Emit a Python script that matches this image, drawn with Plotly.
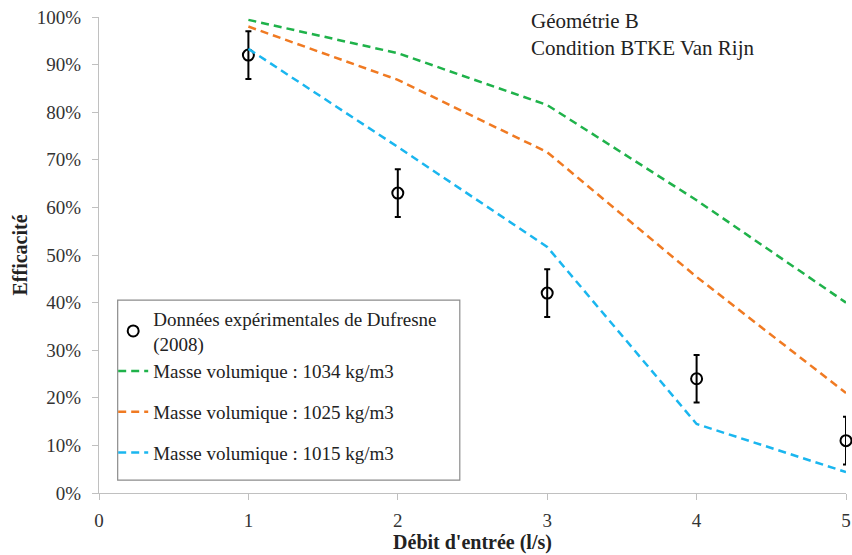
import plotly.graph_objects as go

debit = [1, 2, 3, 4, 5]
exp_values = [0.92, 0.63, 0.42, 0.24, 0.11]
exp_errors = [0.05, 0.05, 0.05, 0.05, 0.05]
rho_1034 = [0.994, 0.924, 0.815, 0.615, 0.40]
rho_1025 = [0.980, 0.868, 0.716, 0.454, 0.21]
rho_1015 = [0.933, 0.727, 0.517, 0.145, 0.044]

series_names = [
    "Données expérimentales de Dufresne<br>(2008)",
    "Masse volumique : 1034 kg/m3",
    "Masse volumique : 1025 kg/m3",
    "Masse volumique : 1015 kg/m3",
]
colors = ["#1fb24a", "#f07a22", "#1ab6ef"]

FONT = "Liberation Serif"

fig = go.Figure()
fig.add_trace(go.Scatter(
    x=debit, y=exp_values, mode="markers", name=series_names[0],
    marker=dict(symbol="circle-open", size=11, color="black", line=dict(width=2, color="black")),
    error_y=dict(type="data", array=exp_errors, color="black", thickness=2, width=3),
    cliponaxis=False, legendgroup="a",
))
for vals, name, col, grp in zip([rho_1034, rho_1025, rho_1015], series_names[1:], colors, ["a", "b", "c"]):
    fig.add_trace(go.Scatter(
        x=debit, y=vals, mode="lines", name=name,
        line=dict(color=col, width=2.5, dash="8px,5px"),
        cliponaxis=False, legendgroup=grp,
    ))

fig.add_shape(type="rect", xref="paper", yref="paper",
              x0=0.025, x1=0.483, y0=0.027, y1=0.405,
              line=dict(color="#8c8c8c", width=1.2), fillcolor="white", layer="above")

fig.add_annotation(
    text="Géométrie B<br>Condition BTKE Van Rijn", xref="paper", yref="paper",
    x=0.575, y=1.02, xanchor="left", yanchor="top", align="left", showarrow=False,
    font=dict(family=FONT, size=21, color="#222"),
)

axis_common = dict(
    showgrid=False, zeroline=False, showline=True, linecolor="#c0c0c0", linewidth=1.3,
    ticks="outside", tickcolor="#c0c0c0", ticklen=6, tickwidth=1.3,
    tickfont=dict(family=FONT, size=19, color="#333"), automargin=False,
)

fig.update_layout(
    width=852, height=555,
    margin=dict(l=99, r=6, t=17, b=62),
    paper_bgcolor="white", plot_bgcolor="white",
    font=dict(family=FONT, color="#222"),
    xaxis=dict(range=[0, 5], dtick=1, tick0=0, ticklabelstandoff=4,
               title=dict(text="<b>Débit d'entrée (l/s)</b>", font=dict(family=FONT, size=20, color="#222"), standoff=4),
               **axis_common),
    yaxis=dict(range=[0, 1], dtick=0.1, tickformat=".0%", ticklabelstandoff=7,
               title=dict(text="<b>Efficacité</b>", font=dict(family=FONT, size=20, color="#222"), standoff=3),
               **axis_common),
    legend=dict(x=0.019, y=0.406, xanchor="left", yanchor="top",
                bgcolor="rgba(0,0,0,0)", borderwidth=0,
                font=dict(family=FONT, size=19, color="#222"),
                tracegroupgap=13, itemwidth=30, traceorder="grouped"),
)

fig.write_html("out.html", config={"displayModeBar": False},
               post_script="document.body.style.margin='0px';")
